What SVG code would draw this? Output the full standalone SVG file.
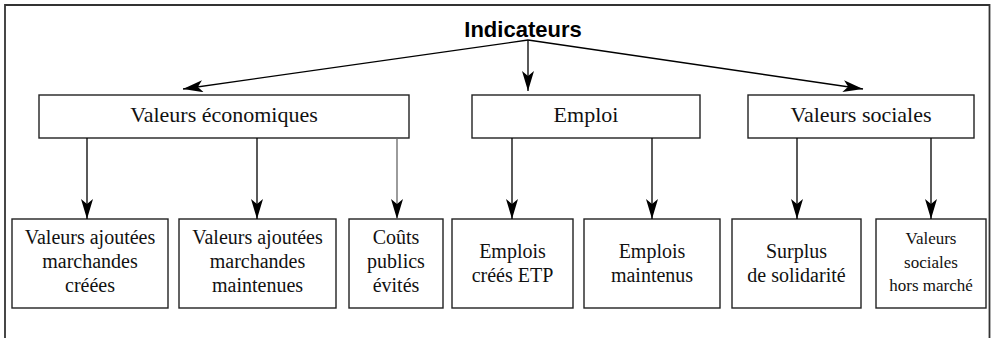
<svg xmlns="http://www.w3.org/2000/svg" width="991" height="338" viewBox="0 0 991 338">
<style>
.box{fill:#fff;stroke:#222;stroke-width:1.4}
.t{font-size:20px;fill:#111;text-anchor:middle}
.t2{font-size:22px;fill:#111;text-anchor:middle}
.ts{font-size:17px;fill:#111;text-anchor:middle}
.title{font-family:'Liberation Sans',Arial,sans-serif;font-size:22px;font-weight:bold;fill:#000;text-anchor:middle}
.c{fill:none;stroke:#000;stroke-width:1.3}
</style>
<defs>
<marker id="ah" viewBox="0 0 20 12" refX="20" refY="6" markerWidth="20" markerHeight="12" markerUnits="userSpaceOnUse" orient="auto">
<path d="M0,0 L20,6 L0,12 L5,6 Z" fill="#000"/>
</marker>
</defs>
<path d="M5,338 V5 H989.5 V338" fill="none" stroke="#333" stroke-width="1.8"/>
<g id="n-indicateurs"><text class="title" x="523" y="37">Indicateurs</text></g>
<g font-family="'Liberation Serif', 'Times New Roman', 'DejaVu Serif', serif">
<g id="n-valeco"><rect class="box" x="39" y="95" width="370" height="43"/><text class="t2" x="224" y="122">Valeurs économiques</text></g>
<g id="n-emploi"><rect class="box" x="472" y="95" width="228" height="43"/><text class="t2" x="586" y="122">Emploi</text></g>
<g id="n-valsoc"><rect class="box" x="748" y="95" width="226" height="43"/><text class="t2" x="861" y="122">Valeurs sociales</text></g>
<g id="n-vamc"><rect class="box" x="12" y="219" width="156" height="89"/><text class="t" x="90" y="244">Valeurs ajoutées</text><text class="t" x="90" y="268">marchandes</text><text class="t" x="90" y="292">créées</text></g>
<g id="n-vamm"><rect class="box" x="179" y="219" width="157" height="89"/><text class="t" x="257.5" y="244">Valeurs ajoutées</text><text class="t" x="257.5" y="268">marchandes</text><text class="t" x="257.5" y="292">maintenues</text></g>
<g id="n-couts"><rect class="box" x="349" y="219" width="94" height="89"/><text class="t" x="396" y="244">Coûts</text><text class="t" x="396" y="268">publics</text><text class="t" x="396" y="292">évités</text></g>
<g id="n-ecrees"><rect class="box" x="452" y="219" width="121" height="89"/><text class="t" x="512.5" y="258">Emplois</text><text class="t" x="512.5" y="282">créés ETP</text></g>
<g id="n-emaint"><rect class="box" x="584" y="219" width="136" height="89"/><text class="t" x="652" y="258">Emplois</text><text class="t" x="652" y="282">maintenus</text></g>
<g id="n-surplus"><rect class="box" x="732" y="219" width="129" height="89"/><text class="t" x="796.5" y="258">Surplus</text><text class="t" x="796.5" y="282">de solidarité</text></g>
<g id="n-vshm"><rect class="box" x="876" y="219" width="110" height="89"/><text class="ts" x="931" y="244">Valeurs</text><text class="ts" x="931" y="268">sociales</text><text class="ts" x="931" y="291">hors marché</text></g>
</g>
<g id="connectors">
<line class="c" x1="528" y1="40" x2="183" y2="89" marker-end="url(#ah)"/>
<line class="c" x1="528" y1="40" x2="528" y2="91" marker-end="url(#ah)"/>
<line class="c" x1="528" y1="40" x2="863" y2="89" marker-end="url(#ah)"/>
<line class="c" x1="87" y1="138" x2="87" y2="219" marker-end="url(#ah)"/>
<line class="c" x1="257" y1="138" x2="257" y2="219" marker-end="url(#ah)"/>
<line class="c" x1="397" y1="138" x2="397" y2="219" marker-end="url(#ah)" style="stroke:#666"/>
<line class="c" x1="512" y1="138" x2="512" y2="219" marker-end="url(#ah)"/>
<line class="c" x1="652" y1="138" x2="652" y2="219" marker-end="url(#ah)"/>
<line class="c" x1="797" y1="138" x2="797" y2="219" marker-end="url(#ah)"/>
<line class="c" x1="931" y1="138" x2="931" y2="219" marker-end="url(#ah)"/>
</g>
</svg>
